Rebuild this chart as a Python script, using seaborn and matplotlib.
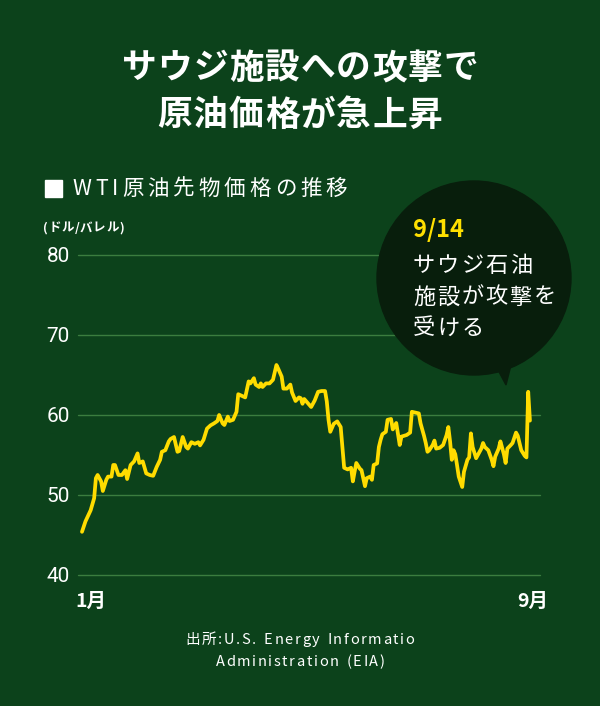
import numpy as np
import pandas as pd
import matplotlib
matplotlib.use("Agg")
import matplotlib.pyplot as plt
import seaborn as sns
from matplotlib.patches import Circle, Polygon, Rectangle
from matplotlib.transforms import Affine2D, ScaledTranslation

# ---------------- data (WTI crude futures, 2019, USD/barrel) ----------------
day_of_year = [2, 4, 7, 9, 10, 11, 13, 14, 16, 17, 19, 20, 21, 23, 25, 27, 28, 30, 32, 34,
               35, 37, 39, 41, 43, 45, 47, 48, 50, 52, 53, 55, 57, 58, 60, 62, 63, 65, 67, 69,
               70, 72, 74, 76, 78, 80, 81, 83, 84, 86, 87, 89, 91, 92, 94, 96, 98, 99, 101, 102,
               104, 105, 106, 108, 110, 112, 114, 115, 117, 118, 120, 122, 123, 125, 127, 128, 129, 130, 132, 134,
               136, 138, 140, 142, 143, 144, 145, 147, 149, 151, 152, 153, 155, 157, 158, 159, 160, 162, 163, 165,
               166, 168, 169, 170, 172, 173, 174, 175, 177, 178, 180, 181, 183, 185, 186, 189, 191, 192, 194, 196,
               197, 199, 200, 201, 202, 204, 205, 206, 208, 210, 212, 213, 214, 215, 216, 217, 218, 219, 221, 222,
               224, 225, 226, 227, 229, 230, 232, 233, 234, 236, 238, 239, 240, 242, 243, 245, 246, 247, 249, 250,
               252, 253, 255, 257, 258, 259, 260]
wti_price = [45.4, 46.7, 48.1, 49.6, 52.1, 52.5, 51.7, 50.5, 51.9, 52.3, 52.3, 53.75, 53.75, 52.5, 52.5, 53.1, 52.0, 53.75, 54.2, 55.2,
             54.0, 54.2, 52.7, 52.5, 52.4, 53.5, 54.4, 55.4, 55.6, 56.7, 57.0, 57.25, 55.4, 55.5, 57.25, 56.0, 55.8, 56.6, 56.4, 56.6,
             56.2, 56.9, 58.3, 58.7, 58.95, 59.25, 60.0, 58.95, 58.75, 59.8, 59.25, 59.4, 60.4, 62.6, 62.4, 62.2, 64.2, 63.95, 64.6, 63.8,
             63.5, 63.95, 63.5, 63.95, 63.95, 64.4, 66.25, 65.8, 64.8, 63.3, 63.3, 63.8, 62.8, 61.75, 62.2, 62.1, 61.4, 62.0, 61.5, 61.0,
             61.8, 62.9, 63.0, 63.0, 61.7, 59.4, 57.9, 58.9, 59.2, 58.5, 56.0, 53.4, 53.2, 53.4, 51.7, 52.9, 54.0, 53.3, 53.1, 51.1,
             52.1, 52.3, 51.9, 53.75, 53.95, 56.0, 56.9, 57.6, 57.9, 59.4, 59.5, 58.2, 59.0, 56.25, 57.3, 57.5, 57.8, 60.4, 60.3, 60.2,
             58.95, 57.4, 56.5, 55.4, 55.6, 56.25, 56.8, 55.8, 55.9, 56.25, 57.5, 58.5, 56.7, 54.4, 55.6, 55.1, 53.75, 52.3, 51.0, 52.9,
             54.4, 54.7, 57.7, 56.0, 54.6, 55.0, 55.8, 56.5, 56.0, 55.6, 54.4, 53.6, 54.8, 55.8, 56.7, 55.1, 54.0, 55.8, 56.25, 56.5,
             57.8, 57.4, 55.6, 54.9, 54.7, 62.9, 59.3]
y_ticks = [40, 50, 60, 70, 80]
x_tick_labels = ["1月", "9月"]

title_lines = ["サウジ施設への攻撃で", "原油価格が急上昇"]
series_label = "WTI原油先物価格の推移"
unit_label = "(ドル/バレル)"
callout_date = "9/14"
callout_lines = ["サウジ石油", "施設が攻撃を", "受ける"]
source_lines = ["出所:U.S. Energy Informatio", "Administration (EIA)"]

assert len(day_of_year) == len(wti_price)

# ---------------- style ----------------
BG = "#0c421b"
GRID = "#3b7d3f"
LINE = "#ffdc00"
BUBBLE = "#081e0c"

sns.set_theme(style="dark", rc={"axes.facecolor": BG, "figure.facecolor": BG,
                                "savefig.facecolor": BG})
plt.rcParams["font.family"] = ["Noto Sans CJK JP", "DejaVu Sans"]

dates = pd.Timestamp("2019-01-01") + pd.to_timedelta(np.array(day_of_year) - 1, unit="D")
df = pd.DataFrame({"date": dates, "price": wti_price})

fig = plt.figure(figsize=(6, 7.06), dpi=100, facecolor=BG)
pxT = Affine2D().scale(1 / 600, -1 / 706).translate(0, 1) + fig.transFigure
renderer = fig.canvas.get_renderer()

ax = fig.add_axes([78 / 600, 131 / 706, 462 / 600, 320 / 706])
ax.set_facecolor(BG)

sns.lineplot(data=df, x="date", y="price", color=LINE, lw=2.7, ax=ax,
             solid_joinstyle="round", solid_capstyle="round", zorder=5)

ax.set_xlim(pd.Timestamp("2019-01-01") - pd.Timedelta(days=1.3),
            pd.Timestamp("2019-01-01") + pd.Timedelta(days=264.8))
ax.set_ylim(min(y_ticks), max(y_ticks))
ax.set_yticks(y_ticks)
ax.set_yticklabels([str(v) for v in y_ticks], color="white", fontsize=15,
                   family="Roboto")
ax.set_xticks([dates[0], dates[-1]])
ax.set_xticklabels(x_tick_labels, color="white", fontsize=14, fontweight="bold")
ax.tick_params(axis="y", length=0, pad=6)
ax.tick_params(axis="x", length=0, pad=12)
xl = ax.get_xticklabels()
xl[0].set_transform(xl[0].get_transform() + ScaledTranslation(9 / 100, 0, fig.dpi_scale_trans))
xl[1].set_transform(xl[1].get_transform() + ScaledTranslation(3 / 100, 0, fig.dpi_scale_trans))
ax.yaxis.grid(True, color=GRID, lw=1)
ax.xaxis.grid(False)
for gl in ax.get_ygridlines():
    gl.set_clip_on(False)
for s in ax.spines.values():
    s.set_visible(False)
ax.set_xlabel("")
ax.set_ylabel("")


def spaced_text(x, y, s, spacing, ha="left", **kw):
    """Draw text char by char with extra letter spacing (pixels)."""
    widths = []
    for ch in s:
        if ch == " ":
            t = fig.text(0, 0, "a", transform=pxT, **kw)
            w = t.get_window_extent(renderer).width * 0.55
        else:
            t = fig.text(0, 0, ch, transform=pxT, **kw)
            w = t.get_window_extent(renderer).width
        t.remove()
        widths.append(w)
    total = sum(widths) + spacing * (len(s) - 1)
    cx = x - total / 2 if ha == "center" else x
    for ch, w in zip(s, widths):
        if ch != " ":
            fig.text(cx, y, ch, transform=pxT, ha="left", va="center", **kw)
        cx += w + spacing


# ---------------- texts & decorations ----------------
spaced_text(300, 68, title_lines[0], 1.0, ha="center", fontsize=25,
            fontweight="bold", color="white")
spaced_text(300, 115, title_lines[1], 1.0, ha="center", fontsize=25,
            fontweight="bold", color="white")

fig.patches.append(Rectangle((45, 180), 17, 17, transform=pxT, color="white"))
spaced_text(72, 189, series_label, 4.0, fontsize=15.5, color="white")
spaced_text(43, 228, unit_label, 0.6, fontsize=9, fontweight="bold", color="white")

fig.patches.append(Circle((474, 278), 97, transform=pxT, color=BUBBLE, zorder=2))
fig.patches.append(Polygon([(497, 368), (511, 365), (506, 385)], closed=True,
                           transform=pxT, color=BUBBLE, zorder=2))
fig.text(413, 230, callout_date, transform=pxT, ha="left", va="center",
         fontsize=17, fontweight="bold", color="#ffe000", zorder=4)
for i, line in enumerate(callout_lines):
    spaced_text(413, 266 + i * 31, line, 2.0, fontsize=16, color="white", zorder=4)

for i, line in enumerate(source_lines):
    spaced_text(300, 640 + i * 22, line, 1.6, ha="center", fontsize=10.5, color="white")

fig.savefig("out.png", dpi=100, facecolor=BG)
